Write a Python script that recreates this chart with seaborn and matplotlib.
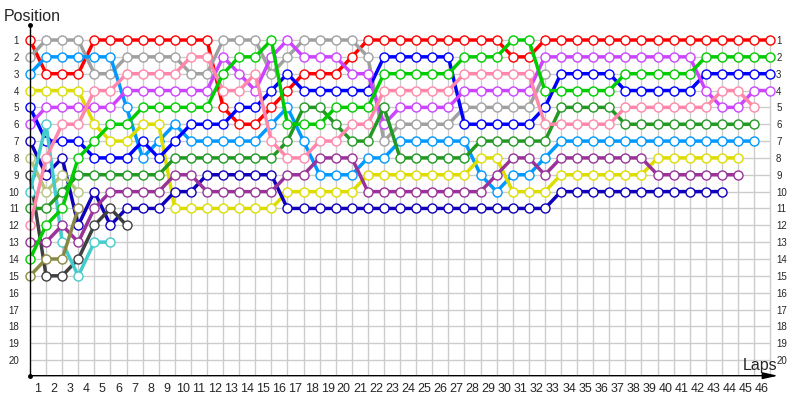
import pandas as pd
import seaborn as sns
import matplotlib.pyplot as plt

# positions per lap (index 0 = grid, then laps 1..46)
red = [1, 3, 3, 3, 1, 1, 1, 1, 1, 1, 1, 1, 5, 6, 6, 5, 4, 3, 3, 3, 2, 1, 1, 1,
       1, 1, 1, 1, 1, 1, 2, 2, 1, 1, 1, 1, 1, 1, 1, 1, 1, 1, 1, 1, 1, 1, 1]
gray = [2, 1, 1, 1, 3, 3, 2, 2, 2, 2, 3, 3, 1, 1, 1, 3, 2, 1, 1, 1, 1, 2, 7, 6,
        6, 6, 6, 5, 5, 5, 5, 5, 3]
light_blue = [3, 2, 2, 2, 2, 2, 5, 8, 7, 6, 7, 7, 7, 7, 7, 6, 5, 7, 9, 9, 9, 8, 8,
              7, 7, 7, 7, 7, 9, 10, 9, 9, 8, 7, 7, 7, 7, 7, 7, 7, 7, 7, 7, 7, 7, 7]
yellow = [4, 4, 4, 4, 6, 7, 7, 6, 6, 11, 11, 11, 11, 11, 11, 11, 10, 10, 10, 10,
          10, 9, 9, 9, 9, 9, 9, 9, 8, 8, 10, 10, 10, 9, 9, 9, 9, 9, 9, 8, 8, 8,
          8, 8, 8]
blue = [5, 7, 7, 7, 8, 8, 8, 7, 8, 7, 6, 6, 6, 5, 5, 4, 3, 4, 4, 4, 4, 4, 2, 2,
        2, 2, 2, 6, 6, 6, 6, 6, 5, 3, 3, 3, 3, 4, 4, 4, 4, 4, 3, 3, 3, 3, 3]
magenta = [6, 5, 5, 5, 5, 5, 4, 4, 4, 4, 4, 4, 2, 3, 4, 2, 1, 2, 2, 2, 3, 3, 6, 5,
           5, 5, 5, 4, 4, 4, 4, 4, 2, 2, 2, 2, 2, 2, 2, 2, 2, 2, 4, 5, 5, 4, 4]
navy = [7, 9, 8, 12, 10, 12, 11, 11, 11, 10, 10, 9, 9, 9, 9, 9, 11, 11, 11, 11,
        11, 11, 11, 11, 11, 11, 11, 11, 11, 11, 11, 11, 11, 10, 10, 10, 10, 10,
        10, 10, 10, 10, 10, 10]
light_olive = [8, 10, 9, 10]
dark_gray = [9, 15, 15, 14, 12, 11, 12]
cyan = [10, 6, 13, 15, 13, 13]
dark_green = [11, 11, 10, 9, 9, 9, 9, 9, 9, 8, 8, 8, 8, 8, 8, 8, 7, 5, 5, 6, 7,
              7, 5, 8, 8, 8, 8, 8, 7, 7, 7, 7, 7, 5, 5, 5, 5, 6, 6, 6, 6, 6, 6,
              6, 6, 6]
pink = [12, 8, 6, 6, 4, 4, 3, 3, 3, 3, 2, 2, 4, 4, 3, 7, 8, 8, 7, 7, 6, 6, 4, 4,
        4, 4, 4, 3, 3, 3, 3, 3, 6, 6, 6, 6, 6, 5, 5, 5, 5, 5, 5, 4, 4, 5]
purple = [13, 13, 12, 13, 11, 10, 10, 10, 10, 9, 9, 10, 10, 10, 10, 10, 9, 9, 8,
          8, 8, 10, 10, 10, 10, 10, 10, 10, 10, 9, 8, 8, 9, 8, 8, 8, 8, 8, 8, 9,
          9, 9, 9, 9, 9]
green = [14, 12, 11, 8, 7, 6, 6, 5, 5, 5, 5, 5, 3, 2, 2, 1, 6, 6, 6, 5, 5, 5, 3,
         3, 3, 3, 3, 2, 2, 2, 1, 1, 4, 4, 4, 4, 4, 3, 3, 3, 3, 3, 2, 2, 2, 2, 2]
olive = [15, 14, 14, 11]

names = ["red", "gray", "light_blue", "yellow", "blue", "magenta", "navy",
         "light_olive", "dark_gray", "cyan", "dark_green", "pink", "purple",
         "green", "olive"]
series = [red, gray, light_blue, yellow, blue, magenta, navy, light_olive,
          dark_gray, cyan, dark_green, pink, purple, green, olive]
colors = ["#ff0000", "#a0a0a0", "#0099ff", "#dddd00", "#0000ff", "#cc44ff",
          "#1100bb", "#b5c47a", "#404040", "#44cccc", "#229922", "#ff88aa",
          "#993399", "#00cc00", "#888844"]

rows = []
for name, pos in zip(names, series):
    for lap, p in enumerate(pos):
        rows.append((name, lap, p))
df = pd.DataFrame(rows, columns=["driver", "lap", "position"])

sns.set_style("white")
plt.rcParams["font.family"] = ["Liberation Sans", "DejaVu Sans"]

fig = plt.figure(figsize=(8, 4), dpi=100)
ax = fig.add_axes([0.0375, 0.06075, 0.93, 0.87675])

y_bottom, y_top = 20.93, 0.109
ax.vlines(range(1, 47), 0.7, y_bottom, color="#cccccc", lw=1, zorder=0)
ax.hlines(range(1, 21), 0, 46, color="#cccccc", lw=1, zorder=0)

sns.lineplot(data=df, x="lap", y="position", hue="driver", hue_order=names,
             palette=dict(zip(names, colors)), estimator=None, legend=False,
             marker="o", markersize=6.5, markerfacecolor="white",
             markeredgewidth=1, lw=2.5, ax=ax)
for line in ax.lines:
    line.set_markeredgecolor(line.get_color())
    line.set_clip_on(False)

ax.set_xlim(0, 46.24)
ax.set_ylim(y_bottom, y_top)
ax.set_xlabel("")
ax.set_ylabel("")

for s in ["top", "right", "bottom"]:
    ax.spines[s].set_visible(False)
ax.spines["left"].set_color("black")
ax.spines["left"].set_linewidth(1)
ax.plot([0, 0], [y_top, y_bottom], "ko", ms=2.5, clip_on=False)
ax.annotate("", xy=(1.0054, 0), xycoords="axes fraction", xytext=(0, 0),
            arrowprops=dict(arrowstyle="-|>,head_length=0.9,head_width=0.2",
                            color="black", lw=1, shrinkA=0, shrinkB=0))

ax.set_xticks([k - 0.5 for k in range(1, 47)])
ax.set_xticklabels([str(k) for k in range(1, 47)])
ax.tick_params(axis="x", length=0, labelsize=9, pad=5)
ax.set_yticks(range(1, 21))
ax.set_yticklabels([str(k) for k in range(1, 21)])
ax.tick_params(axis="y", length=0, labelsize=7, pad=8)

sec = ax.secondary_yaxis("right")
sec.set_yticks(range(1, 21))
sec.set_yticklabels([str(k) for k in range(1, 21)])
sec.tick_params(length=0, labelsize=7, pad=1.5)
sec.spines["right"].set_visible(False)

fig.text(4 / 800, 1 - 21 / 400, "Position", fontsize=11.5, va="baseline")
fig.text(743 / 800, 1 - 370 / 400, "Laps", fontsize=11.5, va="baseline")

fig.savefig("out.png", dpi=100)
